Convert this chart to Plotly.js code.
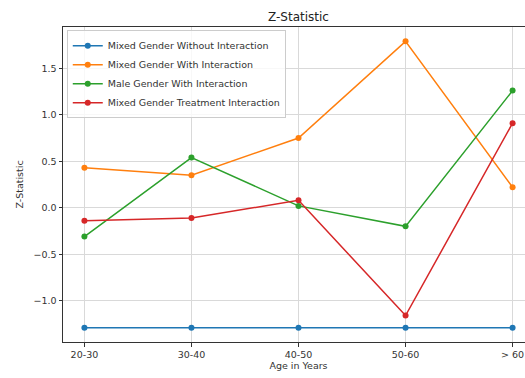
<!DOCTYPE html>
<html>
<head>
<meta charset="utf-8">
<script src="https://cdn.plot.ly/plotly-3.0.1.min.js"></script>
<style>
  html, body { margin: 0; padding: 0; overflow: hidden; background: #fff; }
  #chart { width: 545px; height: 378px; }
</style>
</head>
<body>
<div id="chart"></div>
<script>
// Age groups on the x axis
const ageGroups = ["20-30", "30-40", "40-50", "50-60", "> 60"];

// Z-statistic per model and age group
const mixedWithout = [-1.29, -1.29, -1.29, -1.29, -1.29];
const mixedWith = [0.43, 0.35, 0.75, 1.79, 0.22];
const maleWith = [-0.31, 0.54, 0.02, -0.20, 1.26];
const mixedTreatment = [-0.14, -0.11, 0.08, -1.16, 0.91];

const seriesNames = [
  "Mixed Gender Without Interaction",
  "Mixed Gender With Interaction",
  "Male Gender With Interaction",
  "Mixed Gender Treatment Interaction"
];
const seriesValues = [mixedWithout, mixedWith, maleWith, mixedTreatment];
const palette = ["#1f77b4", "#ff7f0e", "#2ca02c", "#d62728"];

const traces = seriesValues.map((vals, i) => ({
  type: "scatter",
  mode: "lines+markers",
  name: seriesNames[i],
  x: ageGroups,
  y: vals,
  line: { color: palette[i], width: 1.5 },
  marker: { color: palette[i], size: 6 }
}));

const textColor = "#333";
const axisCommon = {
  showline: true,
  mirror: true,
  linecolor: "#333",
  linewidth: 1,
  showgrid: true,
  gridcolor: "#d9d9d9",
  gridwidth: 1,
  zeroline: false,
  ticks: "outside",
  ticklen: 3.5,
  tickcolor: "#333",
  tickfont: { family: "DejaVu Sans", size: 9.5, color: textColor }
};

const layout = {
  width: 545,
  height: 378,
  margin: { l: 63, r: 11, t: 27, b: 36 },
  paper_bgcolor: "#fff",
  plot_bgcolor: "#fff",
  title: {
    text: "Z-Statistic",
    font: { family: "DejaVu Sans", size: 12, color: "#222" },
    x: 0.5,
    xref: "paper",
    y: 0.955,
    yanchor: "middle"
  },
  xaxis: Object.assign({}, axisCommon, {
    type: "category",
    range: [-0.2, 4.2],
    title: { text: "Age in Years", font: { family: "DejaVu Sans", size: 9.5, color: textColor }, standoff: 3 }
  }),
  yaxis: Object.assign({}, axisCommon, {
    range: [-1.444, 1.944],
    tickvals: [-1.0, -0.5, 0.0, 0.5, 1.0, 1.5],
    ticktext: ["\u22121.0", "\u22120.5", "0.0", "0.5", "1.0", "1.5"],
    title: { text: "Z-Statistic", font: { family: "DejaVu Sans", size: 9.5, color: textColor }, standoff: 8 }
  }),
  legend: {
    x: 0.008,
    y: 0.99,
    xanchor: "left",
    yanchor: "top",
    bgcolor: "rgba(255,255,255,0.8)",
    bordercolor: "#cccccc",
    borderwidth: 1,
    font: { family: "DejaVu Sans", size: 9.5, color: textColor },
    tracegroupgap: 0,
    itemwidth: 30
  },
  showlegend: true
};

Plotly.newPlot("chart", traces, layout, { staticPlot: true, displayModeBar: false });
</script>
</body>
</html>
